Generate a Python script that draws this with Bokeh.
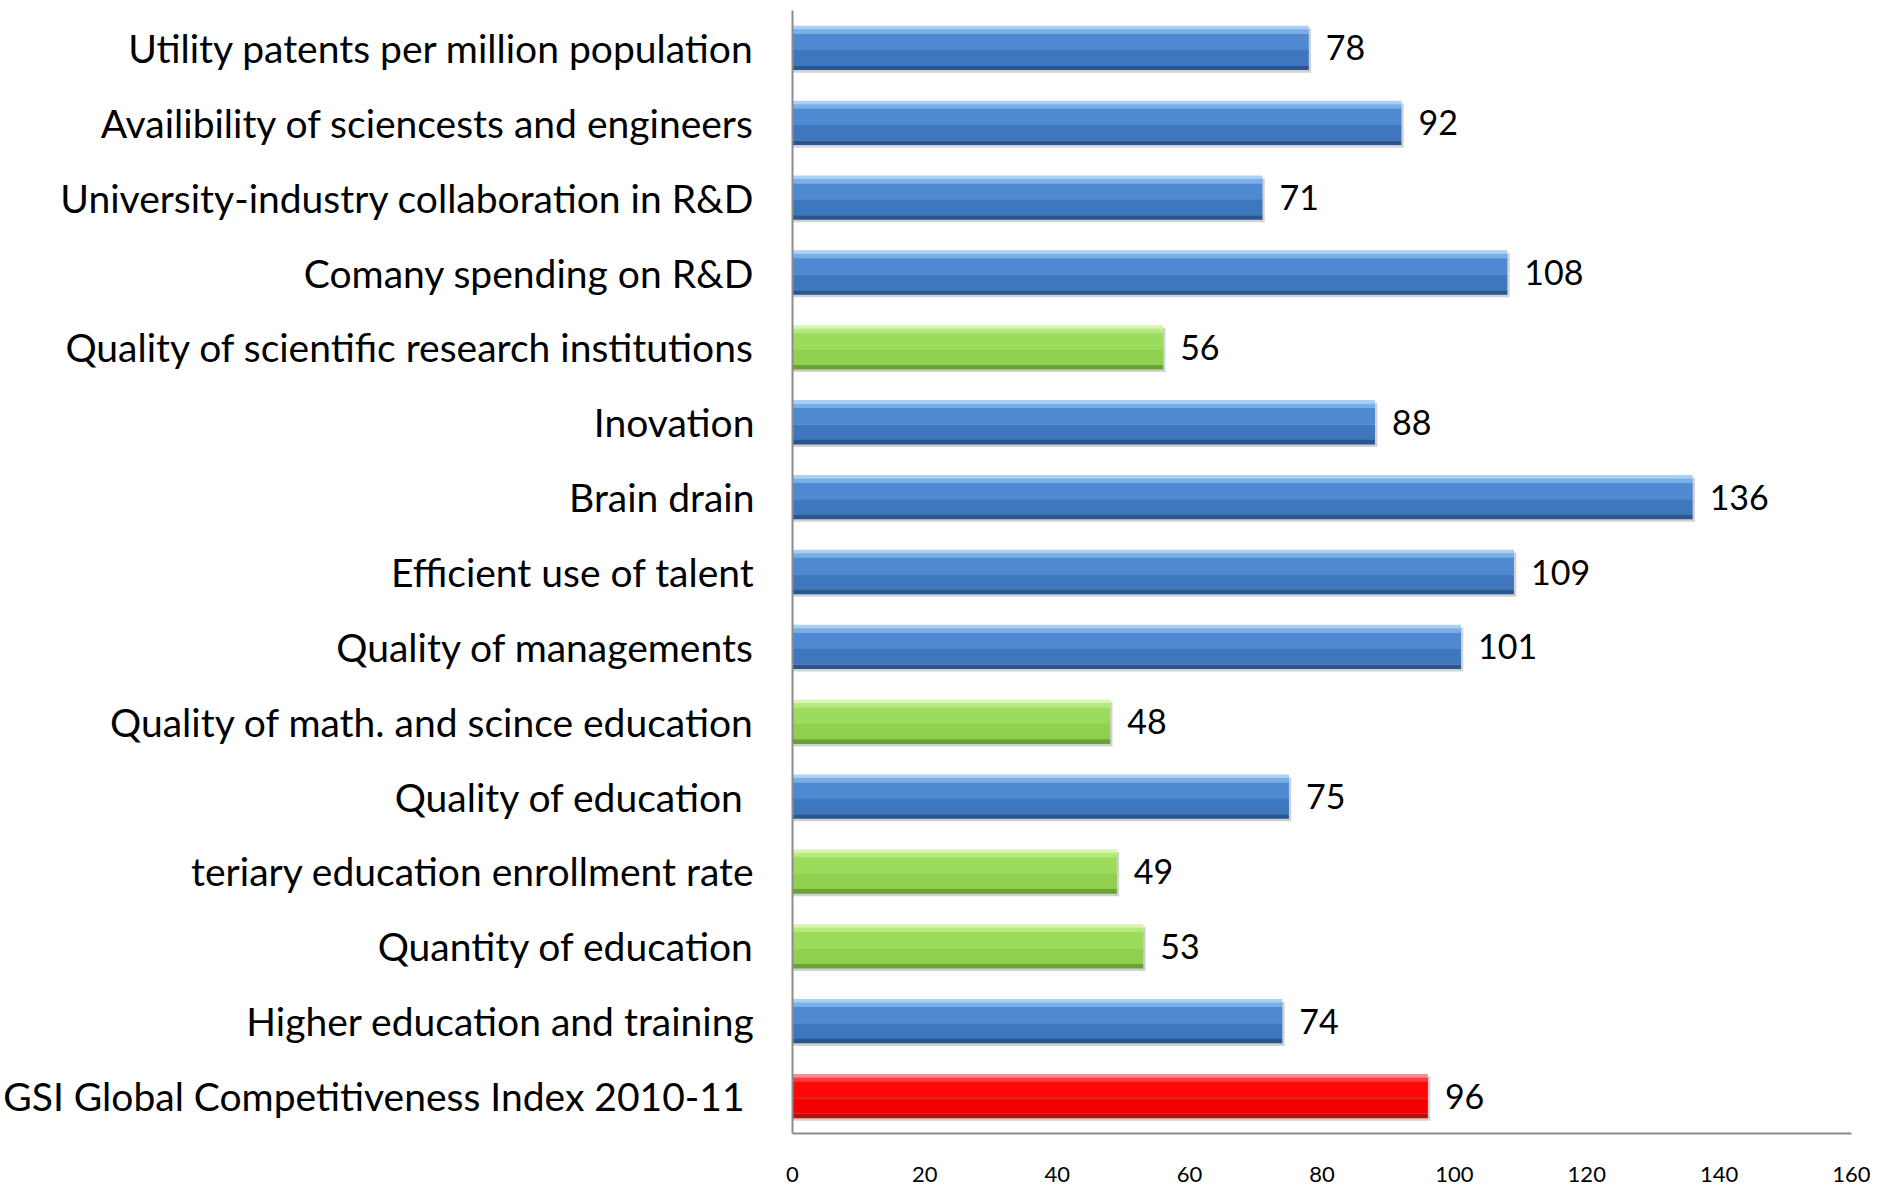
from bokeh.plotting import figure
from bokeh.models import ColumnDataSource, FactorRange, FixedTicker
from bokeh.transform import dodge
from bokeh.core.properties import value
from bokeh.embed import file_html
from bokeh.resources import INLINE

# ---- data (top to bottom as in the chart) ----
categories = [
    "Utility patents per million population",
    "Availibility of sciencests and engineers",
    "University-industry collaboration in R&D",
    "Comany spending on R&D",
    "Quality of scientific research institutions",
    "Inovation",
    "Brain drain",
    "Efficient use of talent",
    "Quality of managements",
    "Quality of math. and scince education",
    "Quality of education ",
    "teriary education enrollment rate",
    "Quantity of education",
    "Higher education and training",
    "GSI Global Competitiveness Index 2010-11 ",
]
values = [78, 92, 71, 108, 56, 88, 136, 109, 101, 48, 75, 49, 53, 74, 96]
groups = ["blue", "blue", "blue", "blue", "green", "blue", "blue", "blue",
          "blue", "green", "blue", "green", "green", "blue", "red"]
x_ticks = [0, 20, 40, 60, 80, 100, 120, 140, 160]

# ---- styles ----
FONT = "Lato"
BAR_H = 0.59
strips = [(0.00, 0.08), (0.08, 0.18), (0.18, 0.55), (0.55, 0.90), (0.90, 1.00)]
palettes = {
    "blue":  ["#a9d1f8", "#79aeea", "#4e89d1", "#3f77be", "#2a558d"],
    "green": ["#d6f7ad", "#b6ea80", "#9cdc5c", "#8fd04e", "#6ba238"],
    "red":   ["#ff8a8a", "#ff3a3a", "#ff0808", "#f20000", "#b51010"],
}

data = dict(cat=categories, val=values, label=[str(v) for v in values],
            shadow_val=[v + 0.35 for v in values])
for k in range(len(strips)):
    data["c%d" % k] = [palettes[g][k] for g in groups]
src = ColumnDataSource(data)

p = figure(width=1870, height=1186,
           y_range=FactorRange(factors=list(reversed(categories)), range_padding=0),
           x_range=(0, 160),
           output_backend="svg", toolbar_location=None,
           min_border_left=792, min_border_right=19,
           min_border_top=10, min_border_bottom=53)

p.background_fill_color = "white"
p.border_fill_color = "white"
p.outline_line_color = None
p.grid.grid_line_color = None

# shadow
p.hbar(y=dodge("cat", -0.035, range=p.y_range), left=0, right="shadow_val",
       height=BAR_H, source=src, fill_color="#000000", fill_alpha=0.18,
       line_color=None)

# bevelled bars made of horizontal strips
for k, (a, b) in enumerate(strips):
    h = (b - a) * BAR_H
    off = BAR_H / 2 - (a + b) / 2 * BAR_H
    p.hbar(y=dodge("cat", off, range=p.y_range), left=0, right="val",
           height=h + 0.002, source=src, fill_color="c%d" % k, line_color=None)

# value labels
p.text(x="val", y="cat", text="label", source=src, x_offset=17,
       text_baseline="middle", text_align="left",
       text_font=value(FONT), text_font_size="34px", text_color="#000000")

# axes
p.xaxis.ticker = FixedTicker(ticks=x_ticks)
p.xaxis.axis_line_color = "#8c8c8c"
p.xaxis.axis_line_width = 2
p.xaxis.major_tick_line_color = None
p.xaxis.minor_tick_line_color = None
p.xaxis.major_label_text_font = FONT
p.xaxis.major_label_text_font_size = "22px"
p.xaxis.major_label_text_color = "#000000"
p.xaxis.major_label_standoff = 27

p.yaxis.axis_line_color = "#8c8c8c"
p.yaxis.axis_line_width = 2
p.yaxis.major_tick_line_color = None
p.yaxis.minor_tick_line_color = None
p.yaxis.major_label_text_font = FONT
p.yaxis.major_label_text_font_size = "39px"
p.yaxis.major_label_text_color = "#000000"
p.yaxis.major_label_standoff = 32

open("out.html", "w").write(file_html(p, INLINE))
